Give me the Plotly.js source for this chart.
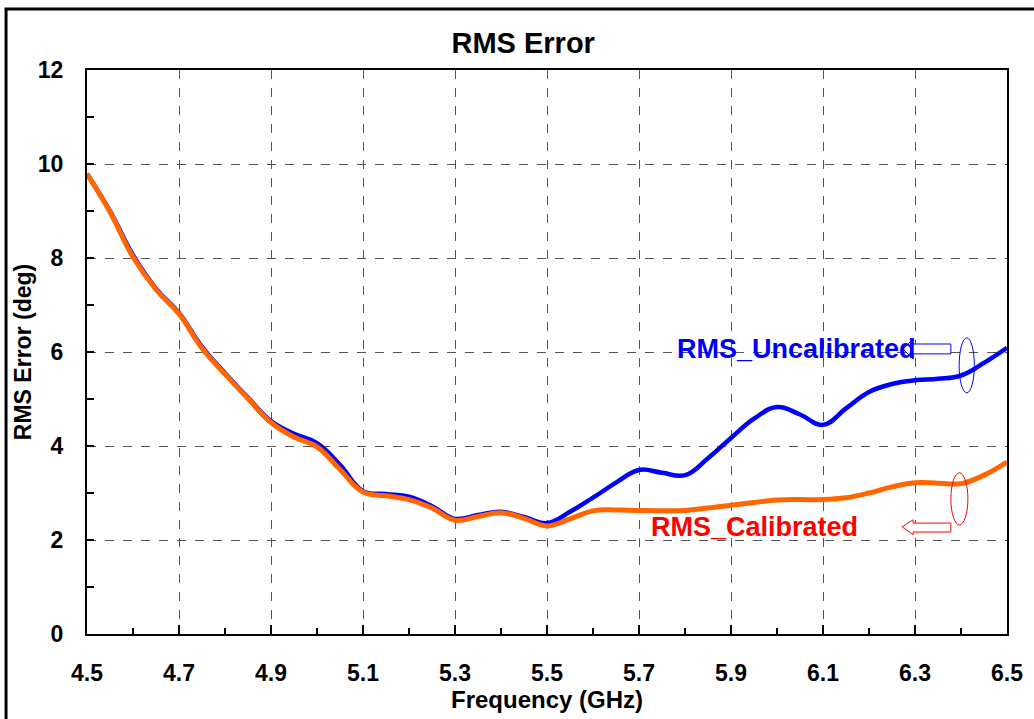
<!DOCTYPE html>
<html>
<head>
<meta charset="utf-8">
<script src="https://cdn.plot.ly/plotly-3.0.1.min.js"></script>
<style>html,body{margin:0;padding:0;background:#fff;}#chart{width:1034px;height:719px;}</style>
</head>
<body>
<div id="chart"></div>
<script>
var freq = [4.5,4.55,4.6,4.65,4.7,4.75,4.8,4.85,4.9,4.95,5.0,5.05,5.1,5.15,5.2,5.25,5.3,5.35,5.4,5.45,5.5,5.55,5.6,5.65,5.7,5.75,5.8,5.85,5.9,5.95,6.0,6.05,6.1,6.15,6.2,6.25,6.3,6.35,6.4,6.45,6.5];
var rmsUncal = [9.79,9.0,8.06,7.35,6.83,6.11,5.55,5.03,4.53,4.26,4.06,3.6,3.04,2.98,2.92,2.72,2.45,2.53,2.6,2.49,2.36,2.6,2.9,3.22,3.49,3.43,3.38,3.74,4.17,4.58,4.83,4.67,4.45,4.8,5.15,5.32,5.4,5.43,5.5,5.77,6.09];
var rmsCal = [9.79,8.98,8.02,7.33,6.81,6.08,5.53,5.01,4.5,4.19,3.98,3.5,3.02,2.94,2.86,2.68,2.42,2.5,2.58,2.46,2.3,2.45,2.62,2.64,2.63,2.62,2.63,2.68,2.74,2.8,2.85,2.86,2.86,2.9,3.0,3.13,3.22,3.21,3.2,3.38,3.66];
var seriesNames = ["RMS_Uncalibrated", "RMS_Calibrated"];
var xTickVals = [4.5,4.7,4.9,5.1,5.3,5.5,5.7,5.9,6.1,6.3,6.5];
var yTickVals = [0,2,4,6,8,10,12];

var FONT = "Liberation Sans, Arial, sans-serif";

function arrowPath(tipX, tipY, headX, headTop, headBot, bodyTop, bodyBot, endX) {
  return "M" + tipX + "," + tipY +
    " L" + headX + "," + headTop +
    " L" + headX + "," + bodyTop +
    " L" + endX + "," + bodyTop +
    " L" + endX + "," + bodyBot +
    " L" + headX + "," + bodyBot +
    " L" + headX + "," + headBot + " Z";
}

var traces = [
  {x: freq, y: rmsUncal, name: seriesNames[0], mode: "lines",
   line: {color: "#0000FF", width: 4.5, shape: "spline", smoothing: 1.2}},
  {x: freq, y: rmsCal, name: seriesNames[1], mode: "lines",
   line: {color: "#FF6600", width: 5, shape: "spline", smoothing: 1.2}}
];

var layout = {
  width: 1034, height: 719,
  margin: {l: 87, r: 27, t: 70, b: 85},
  paper_bgcolor: "#ffffff", plot_bgcolor: "#ffffff",
  showlegend: false,
  title: {text: "RMS Error", x: 0.506, xanchor: "center", y: 0.941, yanchor: "middle",
          font: {family: FONT, size: 29, weight: "bold", color: "#000"}},
  xaxis: {
    range: [4.5, 6.5], tickvals: xTickVals, ticktext: xTickVals.map(function(v){return v.toFixed(1);}),
    ticks: "inside", ticklen: 9, tickwidth: 1.5, tickcolor: "#000",
    showline: true, linecolor: "#000", linewidth: 2, mirror: true,
    showgrid: true, gridcolor: "#555555", griddash: "dash", gridwidth: 1,
    zeroline: false,
    minor: {ticks: "inside", dtick: 0.1, tick0: 4.5, ticklen: 6, tickcolor: "#000", tickwidth: 1.5, showgrid: false},
    tickfont: {family: FONT, size: 23, weight: "bold", color: "#000"},
    ticklabelstandoff: 17,
    title: {text: "Frequency (GHz)", standoff: 0, font: {family: FONT, size: 24, weight: "bold", color: "#000"}},
    fixedrange: true
  },
  yaxis: {
    range: [0, 12], tickvals: yTickVals,
    ticks: "inside", ticklen: 7, tickwidth: 1.5, tickcolor: "#000",
    showline: true, linecolor: "#000", linewidth: 2, mirror: true,
    showgrid: true, gridcolor: "#555555", griddash: "dash", gridwidth: 1,
    zeroline: false,
    minor: {ticks: "inside", dtick: 1, tick0: 0, ticklen: 7, tickcolor: "#000", tickwidth: 1.5, showgrid: false},
    tickfont: {family: FONT, size: 23, weight: "bold", color: "#000"},
    ticklabelstandoff: 17,
    title: {text: "RMS Error (deg)", standoff: 0, font: {family: FONT, size: 23, weight: "bold", color: "#000"}},
    fixedrange: true
  },
  shapes: [
    {type: "rect", xref: "paper", yref: "paper", x0: -0.088, x1: 1.04, y0: -0.17, y1: 1.108,
     line: {color: "#000", width: 3}, fillcolor: "rgba(0,0,0,0)", layer: "above"},
    {type: "path", xref: "x", yref: "y",
     path: arrowPath(6.274, 6.06, 6.296, 6.28, 5.85, 6.17, 5.96, 6.378),
     line: {color: "#0000FF", width: 1}, fillcolor: "#ffffff", layer: "above"},
    {type: "path", xref: "x", yref: "y",
     path: arrowPath(6.272, 2.28, 6.296, 2.43, 2.11, 2.36, 2.17, 6.378),
     line: {color: "#FF0000", width: 1}, fillcolor: "#ffffff", layer: "above"},
    {type: "circle", xref: "x", yref: "y", x0: 6.396, x1: 6.429, y0: 5.13, y1: 6.30,
     line: {color: "#0000FF", width: 1}, fillcolor: "rgba(0,0,0,0)", layer: "above"},
    {type: "circle", xref: "x", yref: "y", x0: 6.378, x1: 6.415, y0: 2.32, y1: 3.43,
     line: {color: "#FF0000", width: 1}, fillcolor: "rgba(0,0,0,0)", layer: "above"}
  ],
  annotations: [
    {x: 5.778, y: 6.06, xref: "x", yref: "y", xanchor: "left", yanchor: "middle", showarrow: false,
     text: seriesNames[0], font: {family: FONT, size: 27, weight: "bold", color: "#0000FF"}},
    {x: 5.722, y: 2.28, xref: "x", yref: "y", xanchor: "left", yanchor: "middle", showarrow: false,
     text: seriesNames[1], font: {family: FONT, size: 27, weight: "bold", color: "#FF0000"}}
  ]
};

Plotly.newPlot("chart", traces, layout, {displayModeBar: false, staticPlot: true});
</script>
</body>
</html>
